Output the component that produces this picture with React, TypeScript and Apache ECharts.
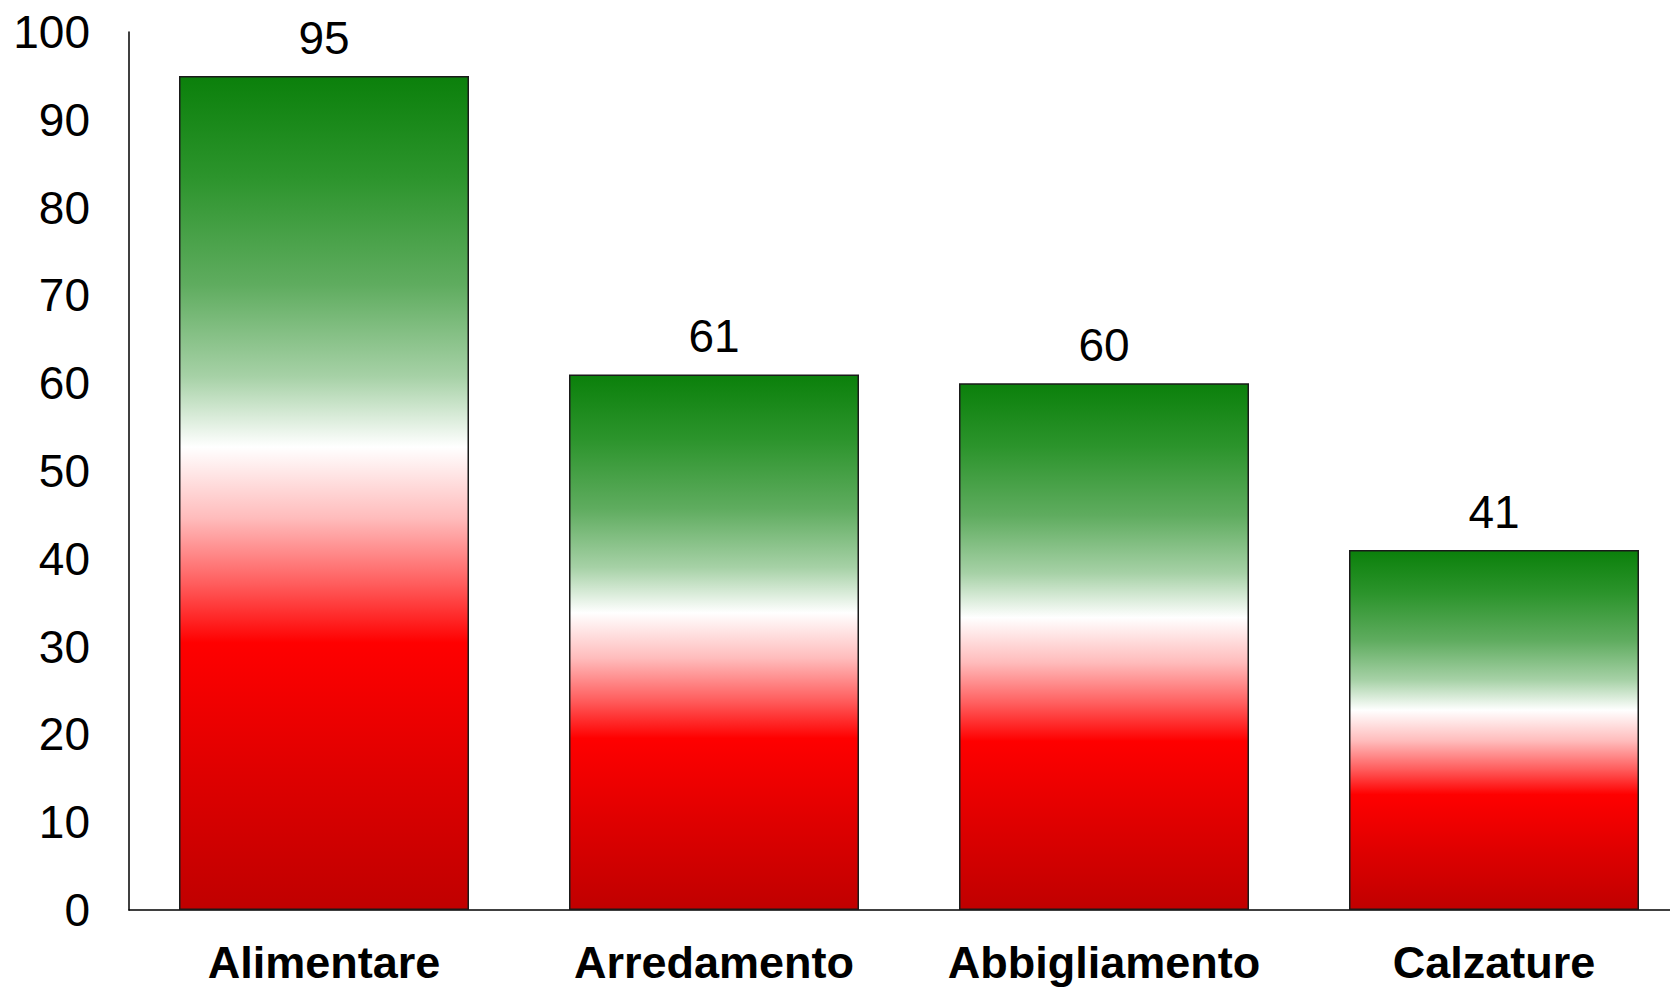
import React, { useEffect, useRef } from "react";
import * as echarts from "echarts";

const categories = ["Alimentare", "Arredamento", "Abbigliamento", "Calzature"];
const values = [95, 61, 60, 41];
const yTicks = { min: 0, max: 100, interval: 10 };

// Vertical tricolore fill: green on top, white band, red at the foot
const tricolore = [
  { offset: 0, color: "#0b800b" },
  { offset: 0.12, color: "#2c942c" },
  { offset: 0.25, color: "#5fac5f" },
  { offset: 0.36, color: "#a6d1a6" },
  { offset: 0.445, color: "#ffffff" },
  { offset: 0.53, color: "#ffbcbc" },
  { offset: 0.61, color: "#ff5c5c" },
  { offset: 0.68, color: "#ff0000" },
  { offset: 0.83, color: "#e00000" },
  { offset: 1, color: "#c00000" },
];

const FONT = "'Liberation Sans', Arial, sans-serif";

export default function App() {
  const ref = useRef<HTMLDivElement>(null);

  useEffect(() => {
    document.body.style.margin = "0";
    if (!ref.current) return;
    const chart = echarts.init(ref.current, null, { renderer: "svg" });
    chart.setOption({
      animation: false,
      backgroundColor: "#ffffff",
      grid: { left: 129, top: 32, bottom: 77, right: 0, containLabel: false },
      xAxis: {
        type: "category",
        data: categories,
        axisLine: { show: true, lineStyle: { color: "#000", width: 1.5 } },
        axisTick: { show: false },
        axisLabel: {
          interval: 0,
          color: "#000",
          fontFamily: FONT,
          fontSize: 45,
          lineHeight: 44,
          fontWeight: "bold",
          margin: 30,
        },
      },
      yAxis: {
        type: "value",
        min: yTicks.min,
        max: yTicks.max,
        interval: yTicks.interval,
        axisLine: { show: true, lineStyle: { color: "#000", width: 1.5 } },
        axisTick: { show: false },
        splitLine: { show: false },
        axisLabel: {
          color: "#000",
          fontFamily: FONT,
          fontSize: 46,
          margin: 39,
        },
      },
      series: [
        {
          type: "bar",
          data: values,
          barWidth: 290,
          itemStyle: {
            color: new echarts.graphic.LinearGradient(0, 0, 0, 1, tricolore),
            borderColor: "#1a1a1a",
            borderWidth: 1.5,
          },
          label: {
            show: true,
            position: "top",
            distance: 15,
            color: "#000",
            fontFamily: FONT,
            fontSize: 46,
          },
        },
      ],
    });
    return () => chart.dispose();
  }, []);

  // The plot runs a little past the right edge, so the frame clips it
  return (
    <div
      style={{
        position: "absolute",
        left: 0,
        top: 0,
        width: 1670,
        height: 987,
        overflow: "hidden",
        background: "#fff",
      }}
    >
      <div ref={ref} style={{ width: 1689, height: 987 }} />
    </div>
  );
}
